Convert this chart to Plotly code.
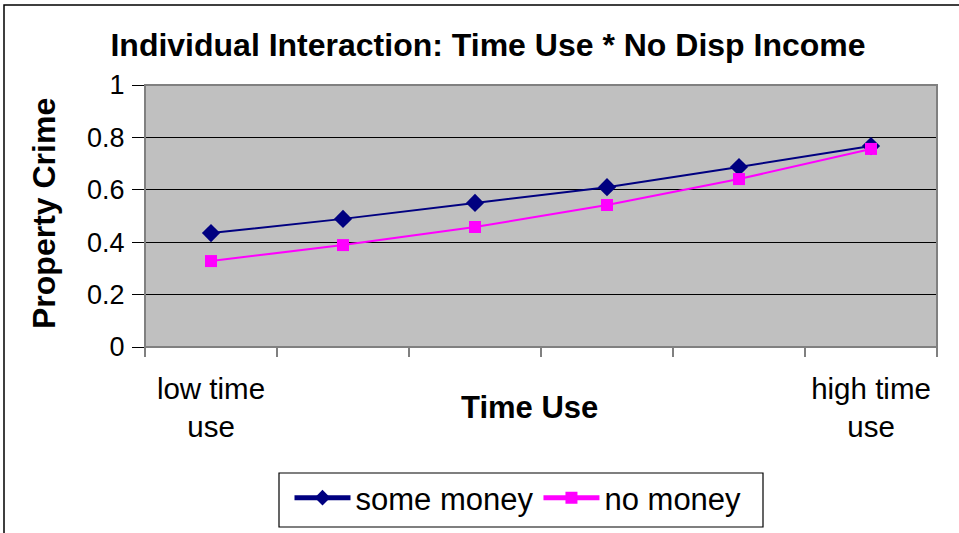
import plotly.graph_objects as go

# Time-use levels (6 steps, only the ends are labelled)
positions = [0, 1, 2, 3, 4, 5]
tick_positions = [0, 5]
tick_labels = ["low time<br>use", "high time<br>use"]

some_money = [0.435, 0.489, 0.550, 0.610, 0.687, 0.767]
no_money = [0.328, 0.389, 0.458, 0.542, 0.641, 0.756]

FONT = "Liberation Sans, Arial, sans-serif"

fig = go.Figure()
fig.add_trace(go.Scatter(
    x=positions, y=some_money, name="some money", mode="lines+markers",
    line=dict(color="#000080", width=2),
    marker=dict(symbol="diamond", size=14, color="#000080"),
))
fig.add_trace(go.Scatter(
    x=positions, y=no_money, name="no money", mode="lines+markers",
    line=dict(color="#FF00FF", width=2),
    marker=dict(symbol="square", size=12, color="#FF00FF"),
))

L, R, T, B = 145, 22, 85, 186
W, H = 959, 533
pw, ph = W - L - R, H - T - B

def px(x):
    return (x - L) / pw

def py(y):
    return (H - B - y) / ph

fig.update_layout(
    width=W, height=H,
    margin=dict(l=L, r=R, t=T, b=B, autoexpand=False),
    paper_bgcolor="white",
    plot_bgcolor="#C0C0C0",
    font=dict(family=FONT, color="black", size=27),
    showlegend=True,
    title=dict(
        text="<b>Individual Interaction: Time Use * No Disp Income</b>",
        xref="container", x=488 / W, xanchor="center",
        yref="container", y=1 - 45 / H, yanchor="middle",
        font=dict(size=32, family=FONT),
    ),
    legend=dict(
        orientation="h", x=px(518), xanchor="center", y=py(471), yanchor="top",
        borderwidth=0, bgcolor="rgba(0,0,0,0)",
        font=dict(size=31, family=FONT),
        itemsizing="constant", tracegroupgap=0, itemwidth=56,
    ),
    xaxis=dict(
        range=[-0.5, 5.5], tickmode="array", tickvals=tick_positions,
        ticktext=tick_labels, ticks="", showgrid=False, zeroline=False,
        showline=False, tickfont=dict(size=29.5), ticklabelstandoff=21,
        automargin=False,
        minor=dict(tickmode="linear", tick0=-0.5, dtick=1, ticks="outside",
                   ticklen=9, tickcolor="#808080", tickwidth=2, showgrid=False),
        fixedrange=True,
    ),
    yaxis=dict(
        range=[0, 1], tickmode="linear", tick0=0, dtick=0.2,
        tickformat="~g", automargin=False,
        showgrid=True, gridcolor="black", gridwidth=1.3, zeroline=False,
        ticks="outside", ticklen=12, tickcolor="black", tickwidth=1,
        showline=False, tickfont=dict(size=27), ticklabelstandoff=2,
        fixedrange=True,
    ),
    annotations=[
        dict(text="<b>Time Use</b>", x=px(529), y=py(408), xref="paper", yref="paper",
             showarrow=False, xanchor="center", yanchor="middle",
             font=dict(size=31, family=FONT)),
        dict(text="<b>Property Crime</b>", x=px(44), y=py(214), xref="paper", yref="paper",
             showarrow=False, xanchor="center", yanchor="middle", textangle=-90,
             font=dict(size=32, family=FONT)),
    ],
    shapes=[
        # plot-area frame
        dict(type="rect", xref="paper", yref="paper", x0=0, x1=1, y0=0, y1=1,
             line=dict(color="#808080", width=2), layer="above"),
        # chart-area frame
        dict(type="rect", xref="paper", yref="paper",
             x0=px(4), x1=px(1000), y0=py(600), y1=py(5),
             line=dict(color="black", width=1.5), layer="above"),
        # legend box
        dict(type="rect", xref="paper", yref="paper",
             x0=px(279), x1=px(763), y0=py(527), y1=py(473),
             line=dict(color="black", width=1.2), layer="below"),
    ],
)

fig.write_html("out.html")
